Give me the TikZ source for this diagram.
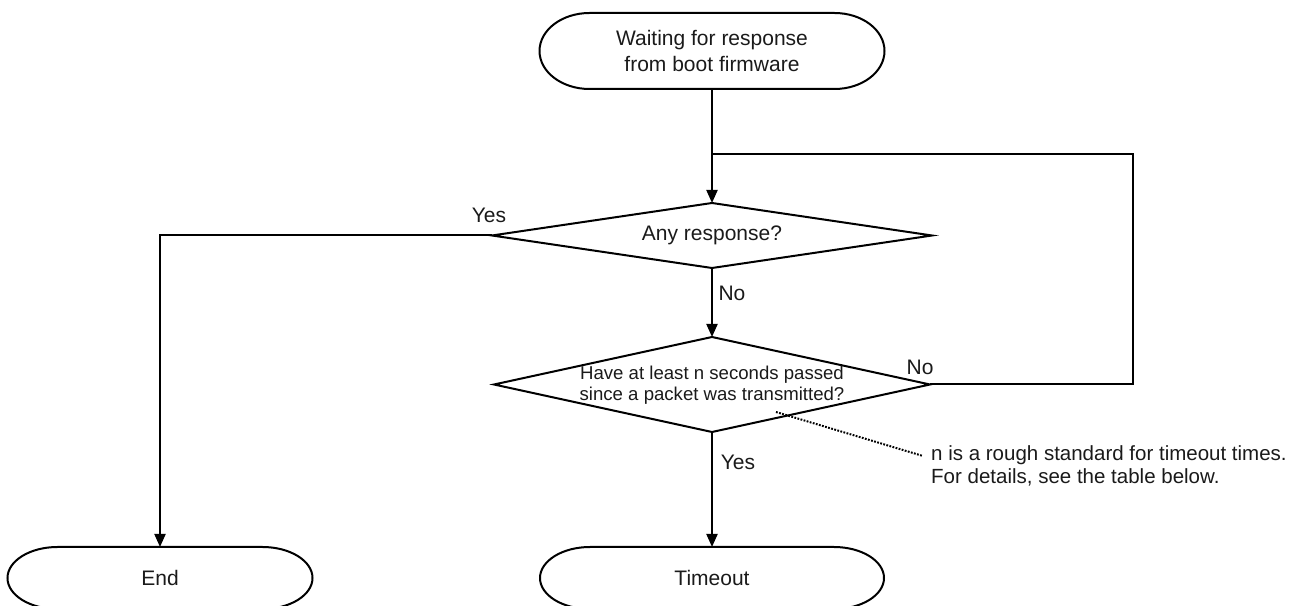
\documentclass[tikz,border=0pt]{standalone}
\usepackage{fontspec}
\setmainfont{Liberation Sans}
\usetikzlibrary{arrows.meta,shapes.geometric,calc}
\definecolor{txt}{HTML}{1A1A1A}
\tikzset{
  shapeline/.style={draw=black,line width=2pt},
  termbox/.style={rectangle,draw=none,outer sep=0pt,inner sep=0pt,align=center,text=txt,
    font=\fontsize{21}{26}\selectfont},
  dia/.style={diamond,draw=black,line width=2pt,inner sep=0pt,outer sep=0pt},
  diatext/.style={align=center,text=txt,inner sep=0pt},
  lbl/.style={text=txt,inner sep=0pt,font=\fontsize{21}{26}\selectfont},
  conn/.style={draw=black,line width=2pt},
  arr/.style={conn,-{Triangle[length=13pt,width=11pt]}},
  dots/.style={draw=black,line width=2pt,dash pattern=on 1.8pt off 1.4pt}
}
\newcommand{\termshape}[3]{%
  \draw[shapeline] ([xshift=#2]#1.north west) -- ([xshift=-#2]#1.north east)
    arc[start angle=90,end angle=-90,x radius=#2,y radius=#3]
    -- ([xshift=#2]#1.south west)
    arc[start angle=270,end angle=90,x radius=#2,y radius=#3] -- cycle;}
\begin{document}
\begin{tikzpicture}[x=1pt,y=1pt]
\useasboundingbox (0,0) rectangle (1301,605);
% terminals
\node[termbox,minimum width=345pt,minimum height=76pt] (start) at (712,554)
  {Waiting for response\\from boot firmware};
\termshape{start}{50pt}{38pt}
\node[termbox,minimum width=305pt,minimum height=62pt] (endn) at (160,27) {End};
\termshape{endn}{50pt}{31pt}
\node[termbox,minimum width=344pt,minimum height=62pt] (tout) at (712,27) {Timeout};
\termshape{tout}{50pt}{31pt}
% decisions
\node[dia,minimum width=440pt,minimum height=65pt] (d1) at (712,369.5) {};
\node[diatext,font=\fontsize{21}{26}\selectfont] (t1) at (d1.center) {Any response?};
\node[dia,minimum width=436pt,minimum height=95pt] (d2) at (712,220.5) {};
\node[diatext,font=\fontsize{18.6}{21}\selectfont] (t2) at ([yshift=-1pt]d2.center)
  {Have at least n seconds passed\\since a packet was transmitted?};
% connectors
\coordinate (jn) at (712,451);
\draw[arr] (start.south) -- (d1.north);
\draw[conn] (d2.east) -- (1133,220.5) |- (jn);
\draw[arr] (d1.south) -- (d2.north);
\draw[arr] (d1.west) -| (endn.north);
\draw[arr] (d2.south) -- (tout.north);
% labels
\node[lbl] (yes1) at (489,390) {Yes};
\node[lbl] (no1) at (732,312) {No};
\node[lbl] (no2) at (920,238) {No};
\node[lbl] (yes2) at (738,143) {Yes};
% note
\node[lbl,anchor=west,align=left,font=\fontsize{20.5}{22.5}\selectfont] (note) at (931,139)
  {n is a rough standard for timeout times.\\For details, see the table below.};
\coordinate (dA) at (776,193);
\coordinate (dB) at (923,149);
\draw[dots] (dA) -- (dB);
\end{tikzpicture}
\end{document}
